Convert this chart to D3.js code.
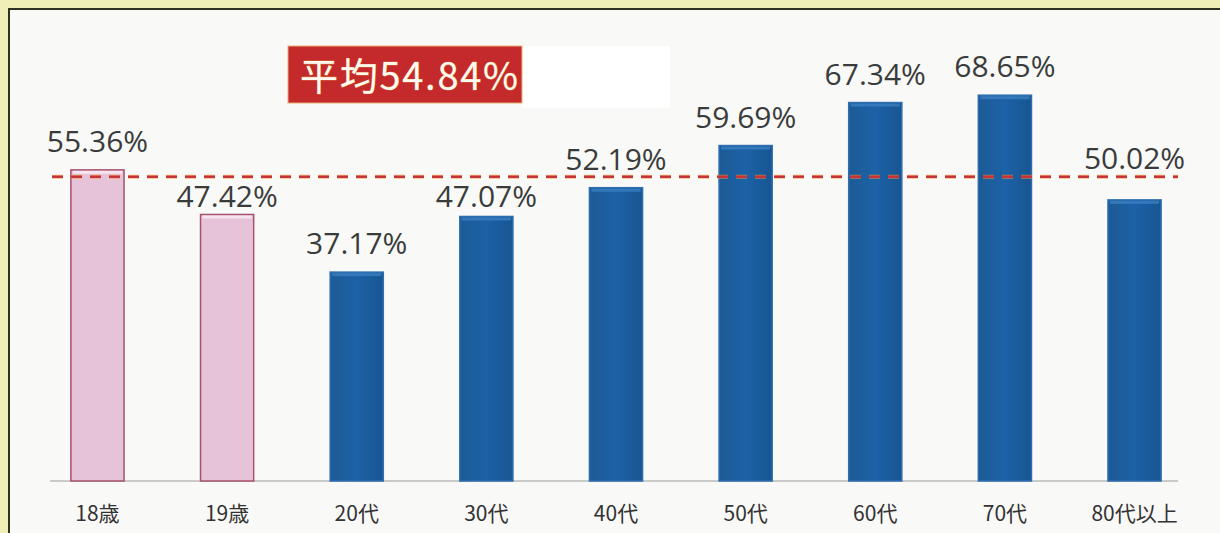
<!DOCTYPE html>
<html>
<head>
<meta charset="utf-8">
<script src="https://cdn.jsdelivr.net/npm/d3@7"></script>
<style>
  body { margin: 0; background: #eef0b8; }
  svg { display: block; }
</style>
</head>
<body>
<svg id="chart" width="1220" height="533"></svg>
<script>
// categories and turnout values (%)
const categories = ["18歳", "19歳", "20代", "30代", "40代", "50代", "60代", "70代", "80代以上"];
const turnout = [55.36, 47.42, 37.17, 47.07, 52.19, 59.69, 67.34, 68.65, 50.02];
const youthGroups = ["18歳", "19歳"]; // drawn in pink
const average = 54.84;

const svg = d3.select("#chart");
const W = 1220, H = 533;

// panel with dark border
svg.append("rect")
    .attr("x", 9).attr("y", 9)
    .attr("width", W).attr("height", H)
    .attr("fill", "#f9f9f7")
    .attr("stroke", "#2e3320")
    .attr("stroke-width", 2);

const x = d3.scaleBand()
    .domain(categories)
    .range([32, 1200])
    .paddingInner(0.59)
    .paddingOuter(0.3);

const y = d3.scaleLinear()
    .domain([0, 70])
    .range([481, 481 - 70 * 5.62]);

const defs = svg.append("defs");
const blueGrad = defs.append("linearGradient").attr("id", "blueGrad");
blueGrad.append("stop").attr("offset", "0%").attr("stop-color", "#1d5a96");
blueGrad.append("stop").attr("offset", "50%").attr("stop-color", "#1c62a6");
blueGrad.append("stop").attr("offset", "100%").attr("stop-color", "#185592");

// baseline
svg.append("line")
    .attr("x1", 50).attr("x2", 1178)
    .attr("y1", y(0)).attr("y2", y(0))
    .attr("stroke", "#9a9a9a")
    .attr("stroke-width", 1);

// bars
svg.selectAll("rect.bar")
    .data(turnout)
    .join("rect")
    .attr("class", "bar")
    .attr("x", (d, i) => x(categories[i]))
    .attr("y", d => y(d))
    .attr("width", x.bandwidth())
    .attr("height", d => y(0) - y(d))
    .attr("fill", (d, i) => youthGroups.includes(categories[i]) ? "#e6c3d8" : "url(#blueGrad)")
    .attr("stroke", (d, i) => youthGroups.includes(categories[i]) ? "#a8506e" : "#2f6fb0")
    .attr("stroke-width", 1.5);

// light top edge on each bar
svg.selectAll("rect.barTop")
    .data(turnout)
    .join("rect")
    .attr("class", "barTop")
    .attr("x", (d, i) => x(categories[i]) + 2)
    .attr("y", d => y(d) + 1)
    .attr("width", x.bandwidth() - 4)
    .attr("height", 3)
    .attr("fill", (d, i) => youthGroups.includes(categories[i]) ? "#f8eef4" : "#3a80c2")
    .attr("opacity", 0.8);

// average line (orange halo under red dashes)
const lineY = y(average) + 4;
svg.append("line")
    .attr("x1", 52).attr("x2", 1178)
    .attr("y1", lineY).attr("y2", lineY)
    .attr("stroke", "#f0a030")
    .attr("stroke-width", 4)
    .attr("stroke-dasharray", "11 8")
    .attr("opacity", 0.6);
svg.append("line")
    .attr("x1", 52).attr("x2", 1178)
    .attr("y1", lineY).attr("y2", lineY)
    .attr("stroke", "#c8323a")
    .attr("stroke-width", 2.5)
    .attr("stroke-dasharray", "11 8");

// value labels, moved off the average line when they would cross it
svg.selectAll("text.value")
    .data(turnout)
    .join("text")
    .attr("class", "value")
    .attr("x", (d, i) => x(categories[i]) + x.bandwidth() / 2)
    .attr("y", d => {
        const base = y(d) - 18;
        // text box is roughly base-24 .. base
        if (base > lineY - 6 && base - 24 < lineY + 4) {
            return base - 24 < lineY - 12 ? lineY - 8 : Math.min(y(d) - 6, lineY + 30);
        }
        return base;
    })
    .attr("text-anchor", "middle")
    .attr("font-family", "'Open Sans', 'Noto Sans', sans-serif")
    .attr("font-size", 30)
    .attr("fill", "#3a3c3c")
    .text(d => d.toFixed(2) + "%");

// category labels
const xAxis = d3.axisBottom(x).tickSize(0).tickPadding(25);
svg.append("g")
    .attr("transform", `translate(0,${y(0)})`)
    .call(xAxis)
    .call(g => g.select(".domain").remove())
    .call(g => g.selectAll("text")
        .attr("font-family", "'Noto Sans CJK JP', sans-serif")
        .attr("font-size", 21)
        .attr("fill", "#333"));

// average badge
svg.append("rect")
    .attr("x", 522).attr("y", 46)
    .attr("width", 148).attr("height", 62)
    .attr("fill", "#ffffff");
svg.append("rect")
    .attr("x", 288).attr("y", 46)
    .attr("width", 234).attr("height", 57)
    .attr("fill", "#c42a2c")
    .attr("stroke", "#e8b070")
    .attr("stroke-width", 1);
svg.append("text")
    .attr("x", 300).attr("y", 90)
    .attr("font-family", "'Noto Sans CJK JP', sans-serif")
    .attr("font-size", 38)
    .attr("font-weight", 400)
    .attr("textLength", 218)
    .attr("fill", "#fffaf0")
    .attr("stroke", "#e0a040")
    .attr("stroke-width", 0.6)
    .attr("paint-order", "stroke")
    .text("平均" + average.toFixed(2) + "%");
</script>
</body>
</html>
